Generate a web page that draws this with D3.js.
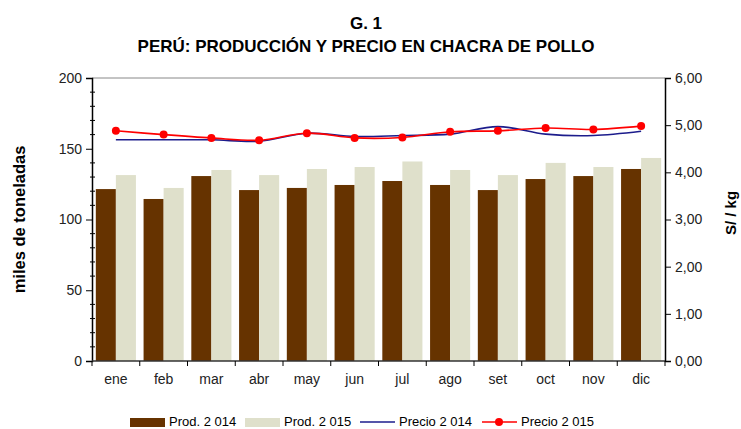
<!DOCTYPE html>
<html>
<head>
<meta charset="utf-8">
<script src="https://cdn.jsdelivr.net/npm/d3@7"></script>
<style>
  body { margin: 0; background: #fff; }
  text { font-family: 'Liberation Sans', Arial, sans-serif; }
</style>
</head>
<body>
<svg id="chart" width="741" height="429"></svg>
<script>
const months = ['ene', 'feb', 'mar', 'abr', 'may', 'jun', 'jul', 'ago', 'set', 'oct', 'nov', 'dic'];
const prod2014 = [121.5, 114.5, 130.7, 120.8, 122.3, 124.4, 127.2, 124.4, 120.8, 128.6, 130.7, 135.7];
const prod2015 = [131.4, 122.3, 135.0, 131.4, 135.7, 137.1, 141.0, 135.0, 131.4, 140.0, 137.1, 143.5];
const precio2014 = [4.69, 4.69, 4.69, 4.66, 4.83, 4.76, 4.78, 4.81, 4.97, 4.81, 4.78, 4.87];
const precio2015 = [4.88, 4.80, 4.73, 4.68, 4.83, 4.73, 4.74, 4.86, 4.88, 4.94, 4.91, 4.98];
const leftTicks = [0, 50, 100, 150, 200];
const rightTicks = [0, 1, 2, 3, 4, 5, 6];

const colors = { p14: '#663300', p15: '#DFE0CB', l14: '#1C1C8C', l15: '#FF0000' };
const plot = { left: 92, right: 665, top: 78, bottom: 361 };

const svg = d3.select('svg');

const x = d3.scaleBand().domain(months).range([plot.left, plot.right]).paddingInner(0.16).paddingOuter(0.08);
const xb = d3.scaleBand().domain(['a', 'b']).range([0, x.bandwidth()]);
const yL = d3.scaleLinear().domain([0, 200]).range([plot.bottom, plot.top]);
const yR = d3.scaleLinear().domain([0, 6]).range([plot.bottom, plot.top]);

// titles
svg.append('text')
  .attr('x', 366).attr('y', 29)
  .attr('text-anchor', 'middle')
  .attr('font-size', 17).attr('font-weight', 'bold')
  .text('G. 1');
svg.append('text')
  .attr('x', 366).attr('y', 52)
  .attr('text-anchor', 'middle')
  .attr('font-size', 17).attr('font-weight', 'bold')
  .text('PERÚ: PRODUCCIÓN Y PRECIO EN CHACRA DE POLLO');

// top border of plot
svg.append('line')
  .attr('x1', plot.left).attr('x2', plot.right)
  .attr('y1', plot.top).attr('y2', plot.top)
  .attr('stroke', '#888').attr('stroke-width', 1);

// bars
const groups = svg.append('g').selectAll('g')
  .data(months)
  .join('g')
  .attr('transform', (d) => `translate(${x(d)},0)`);

groups.append('rect')
  .attr('x', xb('a')).attr('width', xb.bandwidth())
  .attr('y', (d, i) => yL(prod2014[i]))
  .attr('height', (d, i) => yL(0) - yL(prod2014[i]))
  .attr('fill', colors.p14);

groups.append('rect')
  .attr('x', xb('b')).attr('width', xb.bandwidth())
  .attr('y', (d, i) => yL(prod2015[i]))
  .attr('height', (d, i) => yL(0) - yL(prod2015[i]))
  .attr('fill', colors.p15);

// left axis
const axL = svg.append('g')
  .attr('transform', `translate(${plot.left},0)`)
  .call(d3.axisLeft(yL).tickValues(leftTicks).tickSize(6).tickPadding(4));
axL.select('.domain').attr('stroke', '#000').attr('stroke-width', 1.5);
axL.selectAll('text').attr('font-size', 14).attr('fill', '#222')
  .attr('font-family', "'Liberation Sans', Arial, sans-serif");
// minor ticks
svg.append('g').selectAll('line')
  .data(d3.range(0, 201, 10).filter((v) => v % 50 !== 0))
  .join('line')
  .attr('x1', plot.left - 2).attr('x2', plot.left + 3)
  .attr('y1', (d) => yL(d)).attr('y2', (d) => yL(d))
  .attr('stroke', '#000');

// right axis
const axR = svg.append('g')
  .attr('transform', `translate(${plot.right},0)`)
  .call(d3.axisRight(yR).tickValues(rightTicks).tickSize(6).tickPadding(4)
    .tickFormat((d) => d3.format('.2f')(d).replace('.', ',')));
axR.select('.domain').attr('stroke', '#000').attr('stroke-width', 1.5);
axR.selectAll('text').attr('font-size', 14).attr('fill', '#222')
  .attr('font-family', "'Liberation Sans', Arial, sans-serif");

// bottom axis
const boundaries = months.map((m) => x(m) - (x.step() - x.bandwidth()) / 2).concat([plot.right]);
svg.append('line')
  .attr('x1', plot.left).attr('x2', plot.right)
  .attr('y1', plot.bottom).attr('y2', plot.bottom)
  .attr('stroke', '#333').attr('stroke-width', 1.5);
svg.append('g').selectAll('line')
  .data(boundaries)
  .join('line')
  .attr('x1', (d) => d).attr('x2', (d) => d)
  .attr('y1', plot.bottom).attr('y2', plot.bottom + 5)
  .attr('stroke', '#000');
svg.append('g').selectAll('text')
  .data(months)
  .join('text')
  .attr('x', (d) => x(d) + x.bandwidth() / 2)
  .attr('y', plot.bottom + 23)
  .attr('text-anchor', 'middle')
  .attr('font-size', 14).attr('fill', '#222')
  .text((d) => d);

// axis titles
svg.append('text')
  .attr('transform', `translate(25, ${(plot.top + plot.bottom) / 2}) rotate(-90)`)
  .attr('text-anchor', 'middle')
  .attr('font-size', 16.5).attr('font-weight', 'bold')
  .text('miles de toneladas');
svg.append('text')
  .attr('transform', `translate(736, 213) rotate(-90)`)
  .attr('text-anchor', 'middle')
  .attr('font-size', 15).attr('font-weight', 'bold')
  .text('S/ / kg');

// price lines
const cx = (d) => x(d) + x.bandwidth() / 2;
const line14 = d3.line().x((d, i) => cx(months[i])).y((d) => yR(d)).curve(d3.curveCatmullRom.alpha(0.5));
const line15 = d3.line().x((d, i) => cx(months[i])).y((d) => yR(d)).curve(d3.curveCatmullRom.alpha(0.5));

svg.append('path')
  .attr('d', line14(precio2014))
  .attr('fill', 'none').attr('stroke', colors.l14).attr('stroke-width', 1.6);
svg.append('path')
  .attr('d', line15(precio2015))
  .attr('fill', 'none').attr('stroke', colors.l15).attr('stroke-width', 1.6);
svg.append('g').selectAll('circle')
  .data(precio2015)
  .join('circle')
  .attr('cx', (d, i) => cx(months[i]))
  .attr('cy', (d) => yR(d))
  .attr('r', 4)
  .attr('fill', colors.l15);

// legend
const legend = svg.append('g').attr('transform', 'translate(0, 422)');
legend.append('rect').attr('x', 130).attr('y', -4).attr('width', 35).attr('height', 9).attr('fill', colors.p14);
legend.append('text').attr('x', 169).attr('y', 4).attr('font-size', 13).text('Prod. 2 014');
legend.append('rect').attr('x', 245).attr('y', -4).attr('width', 35).attr('height', 9).attr('fill', colors.p15);
legend.append('text').attr('x', 284).attr('y', 4).attr('font-size', 13).text('Prod. 2 015');
legend.append('line').attr('x1', 360).attr('x2', 395).attr('y1', 0).attr('y2', 0)
  .attr('stroke', colors.l14).attr('stroke-width', 1.6);
legend.append('text').attr('x', 399).attr('y', 4).attr('font-size', 13).text('Precio 2 014');
legend.append('line').attr('x1', 482).attr('x2', 517).attr('y1', 0).attr('y2', 0)
  .attr('stroke', colors.l15).attr('stroke-width', 1.6);
legend.append('circle').attr('cx', 499).attr('cy', 0).attr('r', 4).attr('fill', colors.l15);
legend.append('text').attr('x', 521).attr('y', 4).attr('font-size', 13).text('Precio 2 015');
</script>
</body>
</html>
